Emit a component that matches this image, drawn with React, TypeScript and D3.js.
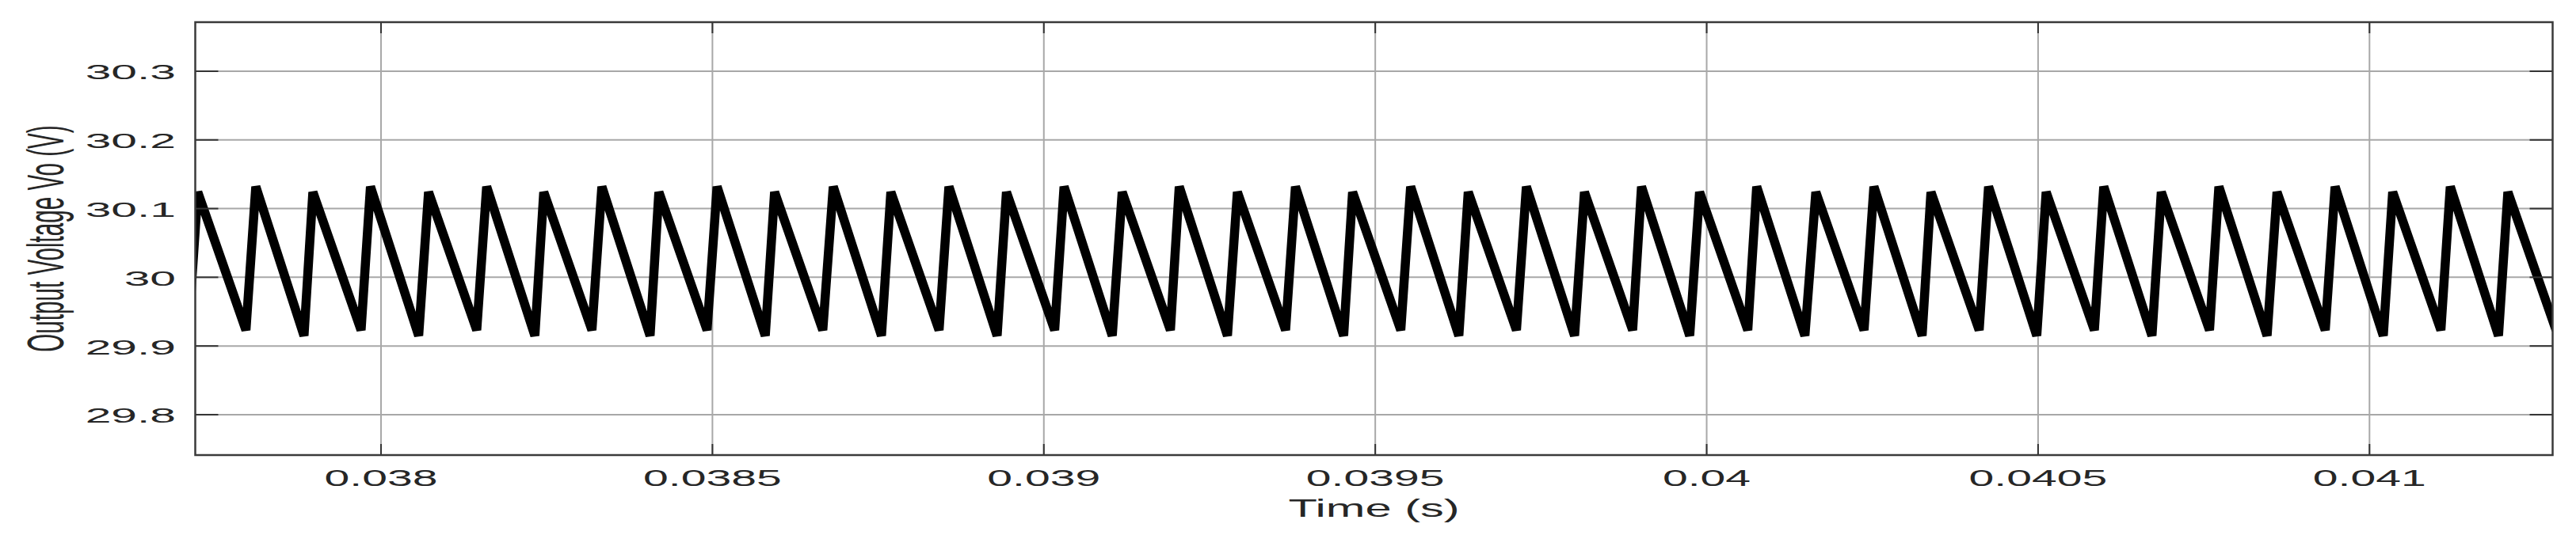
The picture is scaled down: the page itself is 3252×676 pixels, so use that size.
import React from 'react';
import * as d3 from 'd3';

// ---- data ----
const xDomain = [0.03771975, 0.0412763];
const yDomain = [29.7412, 30.3714];

const xTicks = [0.038, 0.0385, 0.039, 0.0395, 0.04, 0.0405, 0.041];
const yTicks = [29.8, 29.9, 30, 30.1, 30.2, 30.3];

const peakTimes = [
  0.0377235, 0.0378111, 0.0378972, 0.0379841, 0.0380717, 0.0381594, 0.0382455,
  0.0383332, 0.0384192, 0.038507, 0.0385938, 0.0386823, 0.0387692, 0.0388568,
  0.0389436, 0.0390305, 0.0391182, 0.0392043, 0.039292, 0.0393796, 0.0394658,
  0.0395534, 0.0396403, 0.039728, 0.0398156, 0.0399017, 0.0399893, 0.0400755,
  0.0401647, 0.0402523, 0.0403384, 0.0404253, 0.0405122, 0.0405991, 0.0406859,
  0.0407728, 0.0408605, 0.0409481, 0.041035, 0.0411219, 0.0412088,
];
const peakVolts = [
  30.124, 30.132, 30.124, 30.132, 30.124, 30.132, 30.124, 30.132, 30.124, 30.132,
  30.124, 30.132, 30.124, 30.132, 30.124, 30.132, 30.124, 30.132, 30.124, 30.132,
  30.124, 30.132, 30.124, 30.132, 30.124, 30.132, 30.124, 30.132, 30.124, 30.132,
  30.124, 30.132, 30.124, 30.132, 30.124, 30.132, 30.124, 30.132, 30.124, 30.132,
  30.124,
];
const troughTimes = [
  0.037709, 0.0377962, 0.0378838, 0.0379699, 0.0380568, 0.0381444, 0.0382321,
  0.0383182, 0.0384059, 0.0384919, 0.0385797, 0.0386665, 0.038755, 0.0388419,
  0.0389295, 0.0390163, 0.0391032, 0.0391909, 0.039277, 0.0393647, 0.0394523,
  0.0395385, 0.0396261, 0.039713, 0.0398007, 0.0398883, 0.0399744, 0.040062,
  0.0401482, 0.0402374, 0.040325, 0.0404111, 0.040498, 0.0405849, 0.0406718,
  0.0407586, 0.0408455, 0.0409332, 0.0410208, 0.0411077, 0.0411946, 0.0412815,
];
const troughVolts = [
  29.915, 29.923, 29.915, 29.923, 29.915, 29.923, 29.915, 29.923, 29.915, 29.923,
  29.915, 29.923, 29.915, 29.923, 29.915, 29.923, 29.915, 29.923, 29.915, 29.923,
  29.915, 29.923, 29.915, 29.923, 29.915, 29.923, 29.915, 29.923, 29.915, 29.923,
  29.915, 29.923, 29.915, 29.923, 29.915, 29.923, 29.915, 29.923, 29.915, 29.923,
  29.915, 29.923,
];

const xLabel = 'Time (s)';
const yLabel = 'Output Voltage Vo (V)';

// ---- layout ----
const W = 3252;
const H = 676;
const P = { left: 246.5, right: 3222.5, top: 28, bottom: 575 };
const FONT = '"Liberation Sans", Arial, Helvetica, sans-serif';
const TEXT = '#262626';

export default function App() {
  const x = d3.scaleLinear().domain(xDomain).range([P.left, P.right]);
  const y = d3.scaleLinear().domain(yDomain).range([P.bottom, P.top]);

  const pts: [number, number][] = [
    ...peakTimes.map((t, i) => [t, peakVolts[i]] as [number, number]),
    ...troughTimes.map((t, i) => [t, troughVolts[i]] as [number, number]),
  ].sort((a, b) => a[0] - b[0]);

  const line = d3
    .line<[number, number]>()
    .x((d) => x(d[0]))
    .y((d) => y(d[1]));

  const pw = P.right - P.left;
  const ph = P.bottom - P.top;

  return (
    <svg
      width={W}
      height={H}
      viewBox={`0 0 ${W} ${H}`}
      style={{ position: 'absolute', left: 0, top: 0, background: '#fff' }}
    >
      <rect x={0} y={0} width={W} height={H} fill="#fff" />
      <defs>
        <clipPath id="plotClip">
          <rect x={P.left} y={P.top} width={pw} height={ph} />
        </clipPath>
      </defs>

      {/* grid */}
      <g stroke="#a8a8a8" strokeWidth={2}>
        {xTicks.map((t) => (
          <line key={'gx' + t} x1={x(t)} x2={x(t)} y1={P.top} y2={P.bottom} />
        ))}
        {yTicks.map((t) => (
          <line key={'gy' + t} x1={P.left} x2={P.right} y1={y(t)} y2={y(t)} />
        ))}
      </g>

      {/* data */}
      <path
        d={line(pts) || ''}
        fill="none"
        stroke="#000"
        strokeWidth={11.5}
        strokeLinejoin="bevel"
        clipPath="url(#plotClip)"
      />

      {/* ticks */}
      <g stroke="#333" strokeWidth={2}>
        {xTicks.map((t) => (
          <g key={'tx' + t}>
            <line x1={x(t)} x2={x(t)} y1={P.bottom} y2={P.bottom - 14} />
            <line x1={x(t)} x2={x(t)} y1={P.top} y2={P.top + 14} />
          </g>
        ))}
        {yTicks.map((t) => (
          <g key={'ty' + t}>
            <line x1={P.left} x2={P.left + 29} y1={y(t)} y2={y(t)} />
            <line x1={P.right} x2={P.right - 29} y1={y(t)} y2={y(t)} />
          </g>
        ))}
      </g>

      {/* box */}
      <rect
        x={P.left}
        y={P.top}
        width={pw}
        height={ph}
        fill="none"
        stroke="#3a3a3a"
        strokeWidth={2.5}
      />

      {/* tick labels */}
      <g fontFamily={FONT} fill={TEXT}>
        {xTicks.map((t) => (
          <text
            key={'lx' + t}
            transform={`translate(${x(t)},614) scale(1.97,1)`}
            textAnchor="middle"
            fontSize={29}
          >
            {String(t)}
          </text>
        ))}
        {yTicks.map((t) => (
          <text
            key={'ly' + t}
            transform={`translate(222,${y(t) + 10.5}) scale(2.35,1)`}
            textAnchor="end"
            fontSize={25}
          >
            {String(t)}
          </text>
        ))}
        <text
          transform={`translate(${(P.left + P.right) / 2},652.7) scale(1.88,1)`}
          textAnchor="middle"
          fontSize={31.7}
        >
          {xLabel}
        </text>
        <text
          transform={`translate(80,${(P.top + P.bottom) / 2}) scale(2.2,1) rotate(-90)`}
          textAnchor="middle"
          fontSize={29.6}
        >
          {yLabel}
        </text>
      </g>
    </svg>
  );
}
